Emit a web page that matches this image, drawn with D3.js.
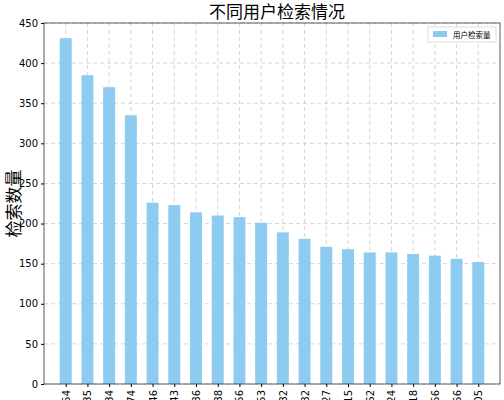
<!DOCTYPE html><html><head><meta charset="utf-8"><script src="https://d3js.org/d3.v7.min.js"></script>
<style>body{margin:0;background:#fff}</style></head><body><svg width="504" height="400"></svg>
<script>
const categories=["54","35","34","74","46","43","86","88","56","53","82","82","27","15","62","24","18","56","56","05"];
const values=[431,385,370,335,226,223,214,210,208,201,189,181,171,168,164,164,162,160,156,152];
const yTicks=[0,50,100,150,200,250,300,350,400,450];
const svg=d3.select("svg"),L=44,R=500,T=23,B=384;
const x=d3.scaleLinear().domain([-1,categories.length]).range([L,R]);
const y=d3.scaleLinear().domain([0,450]).range([B,T]);
const f="'Noto Sans CJK SC',sans-serif";
const g=svg.append("g");
g.selectAll(".gx").data(categories).enter().append("line").attr("x1",(d,i)=>x(i)).attr("x2",(d,i)=>x(i)).attr("y1",T).attr("y2",B).attr("stroke","#ccc").attr("stroke-dasharray","4,3").attr("stroke-width",0.8);
g.selectAll(".gy").data(yTicks).enter().append("line").attr("x1",L).attr("x2",R).attr("y1",d=>y(d)).attr("y2",d=>y(d)).attr("stroke","#ccc").attr("stroke-dasharray","4,3").attr("stroke-width",0.8);
const w=(x(1)-x(0))*0.55;
g.selectAll("rect").data(values).enter().append("rect").attr("x",(d,i)=>x(i)-w/2).attr("width",w).attr("y",d=>y(d)).attr("height",d=>B-y(d)).attr("fill","#8ecbf0");
svg.append("rect").attr("x",L).attr("y",T).attr("width",R-L).attr("height",B-T).attr("fill","none").attr("stroke","#333").attr("stroke-width",0.8);
svg.append("g").attr("transform",`translate(${L},0)`).call(d3.axisLeft(y).tickValues(yTicks).tickSize(3).tickSizeOuter(0)).call(a=>{a.select(".domain").remove();a.selectAll("text").attr("font-size",10).attr("font-family","DejaVu Sans").attr("fill","#000")});
const xa=svg.append("g").attr("transform",`translate(0,${B})`).call(d3.axisBottom(x).tickValues(d3.range(categories.length)).tickFormat(i=>categories[i]).tickSize(3).tickSizeOuter(0));
xa.select(".domain").remove();
xa.selectAll("text").attr("font-size",10).attr("font-family","DejaVu Sans").attr("fill","#000").attr("transform","rotate(-90)").attr("text-anchor","end").attr("dy","0.35em").attr("x",-6).attr("y",0);
svg.append("text").attr("x",(L+R)/2+5).attr("y",18).attr("text-anchor","middle").attr("font-size",17).attr("font-family",f).text("不同用户检索情况");
svg.append("text").attr("transform",`translate(14,${(T+B)/2}) rotate(-90)`).attr("text-anchor","middle").attr("dy","0.35em").attr("font-size",17).attr("font-family",f).text("检索数量");
const lg=svg.append("g").attr("transform","translate(428,27)");
lg.append("rect").attr("width",68).attr("height",15).attr("fill","#fff").attr("stroke","#ddd");
lg.append("rect").attr("x",5).attr("y",4).attr("width",14).attr("height",6).attr("fill","#8ecbf0");
lg.append("text").attr("x",25).attr("y",11).attr("font-size",7.5).attr("font-family",f).text("用户检索量");
</script></body></html>
